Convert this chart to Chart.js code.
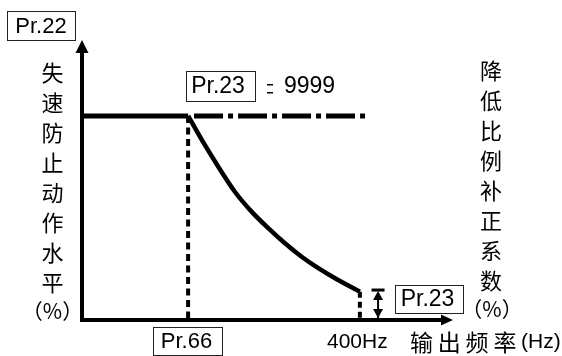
<!DOCTYPE html>
<html>
<head>
<meta charset="utf-8">
<style>
  html, body { margin: 0; padding: 0; background: #fff; }
  canvas { display: block; }
</style>
</head>
<body>
<canvas id="chart" width="562" height="356"></canvas>
<script src="https://cdn.jsdelivr.net/npm/chart.js"></script>
<script>
  // chart units: x = output frequency (0-100 of axis length), y = level (0-100 of axis height)
  const curveX = [28.6, 32.3, 36.7, 41.2, 45.7, 50.2, 54.7, 59.2, 63.7, 68.2, 74.9];
  const curveY = [72.9, 64.3, 54.8, 45.8, 38.7, 32.8, 27.4, 22.6, 18.5, 14.9, 10.1];
  const levelY = 72.9;
  const pr66X = 28.6;
  const endX = 74.9;
  const dashStartX = 30.2;
  const dashEndX = 77.6;
  const markX = 79.8;
  const markY = 10.7;

  // texts
  const yLabel = ["失", "速", "防", "止", "动", "作", "水", "平"];
  const y2Label = ["降", "低", "比", "例", "补", "正", "系", "数"];
  const xLabel = ["输", "出", "频", "率"];
  const xUnit = "(Hz)";
  const pctText = "（%）";
  const xTicks = ["Pr.66", "400Hz"];
  const boxes = ["Pr.22", "Pr.23", "Pr.23"];
  const setValue = "9999";

  const CJK = "'Noto Sans CJK SC'";
  const LAT = "'Liberation Sans', Arial";

  function pts(xs, ys) {
    return xs.map((x, i) => ({ x: x, y: ys[i] }));
  }

  function lineSet(data, width, dash) {
    return {
      data: data,
      borderColor: "#000",
      borderWidth: width,
      borderDash: dash || [],
      pointRadius: 0,
      fill: false,
      clip: false,
    };
  }

  const datasets = [
    // axes
    lineSet([{ x: 0, y: -0.7 }, { x: 0, y: 96 }], 4),
    lineSet([{ x: -0.5, y: 0 }, { x: 97, y: 0 }], 4),
    // constant level up to Pr.66
    lineSet([{ x: 0, y: levelY }, { x: pr66X, y: levelY }], 5),
    // Pr.23 = 9999 : dash-dot level
    lineSet([{ x: dashStartX, y: levelY }, { x: dashEndX, y: levelY }], 5, [29, 5, 5, 5]),
    // Pr.66 dotted
    lineSet([{ x: pr66X, y: levelY }, { x: pr66X, y: 0 }], 4, [7, 4.5]),
    // 400Hz dotted
    lineSet([{ x: endX, y: curveY[curveY.length - 1] }, { x: endX, y: 0 }], 4, [6, 4]),
    // Pr.23 mark shaft
    lineSet([{ x: markX, y: markY - 1 }, { x: markX, y: 0.5 }], 2),
  ];

  const curve = lineSet(pts(curveX, curveY), 4.5);
  curve.cubicInterpolationMode = "monotone";
  datasets.push(curve);

  function box(ctx, x, y, w, h) {
    ctx.lineWidth = 1;
    ctx.strokeStyle = "#222";
    ctx.strokeRect(x + 0.5, y + 0.5, w, h);
  }

  function tri(ctx, a, b, c) {
    ctx.beginPath();
    ctx.moveTo(a[0], a[1]);
    ctx.lineTo(b[0], b[1]);
    ctx.lineTo(c[0], c[1]);
    ctx.closePath();
    ctx.fill();
  }

  const deco = {
    id: "deco",
    afterDraw(chart) {
      const ctx = chart.ctx;
      const xs = chart.scales.x, ys = chart.scales.y;
      const x0 = xs.getPixelForValue(0), y0 = ys.getPixelForValue(0);
      const top = ys.getPixelForValue(100), right = xs.getPixelForValue(100);
      ctx.save();
      ctx.fillStyle = "#000";

      // axis arrow heads
      tri(ctx, [x0, top], [x0 - 6.5, top + 13], [x0 + 6.5, top + 13]);
      tri(ctx, [right, y0], [right - 12, y0 - 5.5], [right - 12, y0 + 5.5]);

      // Pr.23 double arrow
      const mx = xs.getPixelForValue(markX), my = ys.getPixelForValue(markY);
      ctx.fillRect(mx - 6.5, my - 1.5, 13, 3);
      tri(ctx, [mx, my + 1], [mx - 5, my + 10], [mx + 5, my + 10]);
      tri(ctx, [mx, y0 - 2], [mx - 5, y0 - 11], [mx + 5, y0 - 11]);

      ctx.textAlign = "center";
      ctx.textBaseline = "middle";

      // vertical labels
      ctx.font = "22px " + CJK;
      yLabel.forEach((c, i) => ctx.fillText(c, 52.5, 73 + i * 29.9));
      y2Label.forEach((c, i) => ctx.fillText(c, 491, 71 + i * 30));
      ctx.font = "21px " + CJK;
      ctx.fillText(pctText, 52.5, 311);
      ctx.fillText(pctText, 492, 309);

      // x title
      ctx.font = "23px " + CJK;
      xLabel.forEach((c, i) => ctx.fillText(c, 421.5 + i * 27.8, 342));
      ctx.textAlign = "left";
      ctx.font = "21px " + LAT;
      ctx.fillText(xUnit, 521, 342);
      ctx.fillText(xTicks[1], 327, 342);

      // boxed parameter names
      ctx.textAlign = "center";
      ctx.font = "22px " + LAT;
      box(ctx, 7, 11, 68, 29);
      ctx.fillText(boxes[0], 41, 26.5);
      box(ctx, 153, 327, 69, 28);
      ctx.fillText(xTicks[0], 186.5, 342);
      ctx.font = "23px " + LAT;
      box(ctx, 186, 71, 69, 30);
      ctx.fillText(boxes[1], 218, 87);
      box(ctx, 395, 285, 68, 28);
      ctx.fillText(boxes[2], 427.5, 300);

      // = 9999
      ctx.fillRect(267, 84, 6, 1.5);
      ctx.fillRect(267, 92, 6, 1.5);
      ctx.textAlign = "left";
      ctx.fillText(setValue, 284, 87);

      ctx.restore();
    },
  };

  new Chart(document.getElementById("chart").getContext("2d"), {
    type: "line",
    data: { datasets: datasets },
    options: {
      responsive: false,
      animation: false,
      events: [],
      layout: { padding: { left: 82, right: 109, top: 40, bottom: 36 } },
      scales: {
        x: { type: "linear", min: 0, max: 100, display: false },
        y: { type: "linear", min: 0, max: 100, display: false },
      },
      plugins: { legend: { display: false }, tooltip: { enabled: false } },
    },
    plugins: [deco],
  });
</script>
</body>
</html>
